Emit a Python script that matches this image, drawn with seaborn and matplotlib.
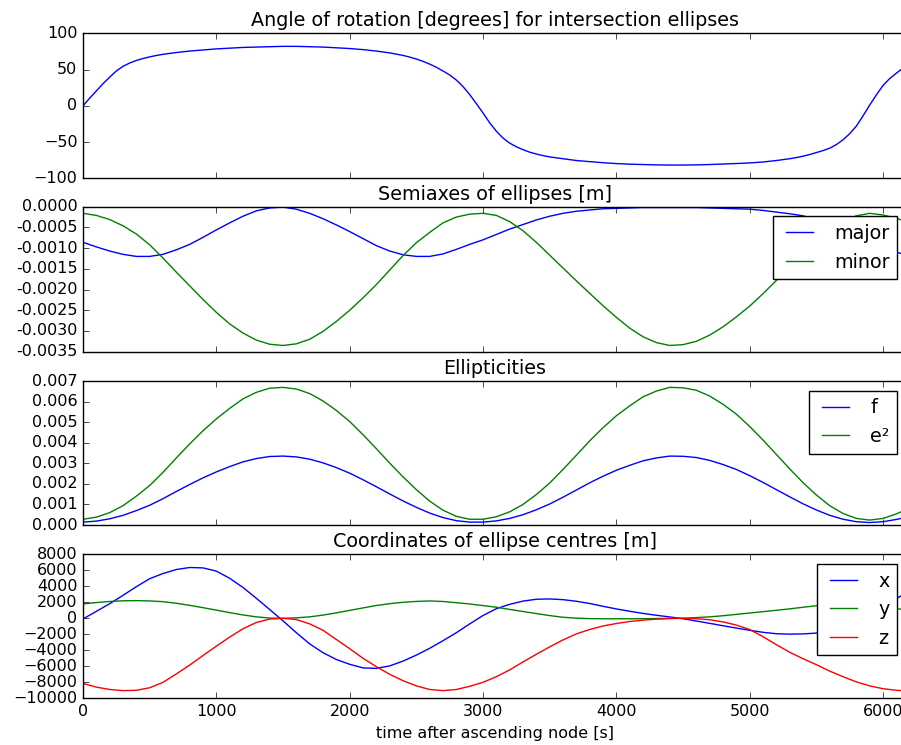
import matplotlib
matplotlib.use("Agg")
import matplotlib.pyplot as plt
import matplotlib.ticker as mticker
import seaborn as sns

# ---------------- data ----------------
time = list(range(0, 6101, 100)) + [6150]

# angle sampled more densely where it changes quickly
angle_time = (list(range(0, 601, 50)) + list(range(700, 2401, 100)) +
              list(range(2450, 3501, 50)) + list(range(3600, 5301, 100)) +
              list(range(5350, 6151, 50)))
angle = [0, 10.5, 20.5, 30.5, 39.5, 48, 54.5, 59, 62.5, 65.2, 67.5, 69.4, 71,
         73.5, 75.5, 77, 78.5, 79.5, 80.5, 81, 81.5, 82, 82, 81.5, 81, 80,
         79, 77.5, 75.5, 73, 69.5,
         67.2, 64.5, 61.3, 57.5, 53.2, 48, 42.5, 35.5, 26.5, 15.5, 3,
         -10, -23.5, -35, -44.5, -51.5, -56.5, -60.5, -64, -66.5, -68.7, -70.5,
         -73, -75.5, -77, -78.5, -79.7, -80.5, -81, -81.5, -81.7, -81.7,
         -81.5, -81, -80.3, -79.6, -78.8, -77.5, -75.5, -73,
         -71.4, -69.5, -67.2, -64.5, -61.8, -58.5, -53.5, -47, -38.5, -28,
         -14, 1, 15, 28, 37.5, 45, 52]

major = [-0.00086, -0.00097, -0.00107, -0.00115, -0.00120, -0.00120, -0.00115, -0.00104, -0.00091, -0.00074,
         -0.00056, -0.00039, -0.00023, -0.00010, -0.00003, -0.00001, -0.00006, -0.00016, -0.00029, -0.00044,
         -0.00060, -0.00077, -0.00094, -0.00107, -0.00116, -0.00120, -0.00120, -0.00114, -0.00103, -0.00091,
         -0.00080, -0.00067, -0.00054, -0.00043, -0.00032, -0.00023, -0.00016, -0.00011, -0.00008, -0.00005,
         -0.00004, -0.00003, -0.00002, -0.00002, -0.00002, -0.00002, -0.00002, -0.00003, -0.00004, -0.00005,
         -0.00006, -0.00009, -0.00013, -0.00017, -0.00022, -0.00031, -0.00043, -0.00057, -0.00072, -0.00087,
         -0.00100, -0.00110, -0.00114]

minor = [-0.00016, -0.00021, -0.00031, -0.00046, -0.00066, -0.00092, -0.00124, -0.00158, -0.00191, -0.00224,
         -0.00255, -0.00283, -0.00305, -0.00322, -0.00332, -0.00335, -0.00331, -0.00320, -0.00301, -0.00277,
         -0.00250, -0.00220, -0.00188, -0.00153, -0.00118, -0.00087, -0.00062, -0.00039, -0.00025, -0.00018,
         -0.00016, -0.00021, -0.00036, -0.00058, -0.00086, -0.00117, -0.00148, -0.00179, -0.00209, -0.00239,
         -0.00267, -0.00293, -0.00314, -0.00328, -0.00335, -0.00333, -0.00325, -0.00310, -0.00290, -0.00266,
         -0.00240, -0.00210, -0.00178, -0.00146, -0.00115, -0.00085, -0.00058, -0.00036, -0.00022, -0.00016,
         -0.00020, -0.00028, -0.00033]

flat = [0.00014, 0.00019, 0.00030, 0.00047, 0.00070, 0.00096, 0.00128, 0.00163, 0.00197, 0.00229,
        0.00258, 0.00284, 0.00307, 0.00323, 0.00333, 0.00335, 0.00331, 0.00320, 0.00302, 0.00279,
        0.00252, 0.00220, 0.00186, 0.00151, 0.00117, 0.00086, 0.00058, 0.00036, 0.00021, 0.00014,
        0.00014, 0.00020, 0.00032, 0.00050, 0.00074, 0.00102, 0.00135, 0.00170, 0.00205, 0.00237,
        0.00266, 0.00290, 0.00312, 0.00326, 0.00335, 0.00334, 0.00328, 0.00314, 0.00294, 0.00270,
        0.00240, 0.00207, 0.00172, 0.00137, 0.00103, 0.00073, 0.00047, 0.00028, 0.00016, 0.00012,
        0.00016, 0.00027, 0.00034]

ecc2 = [0.00028, 0.00038, 0.00060, 0.00094, 0.00140, 0.00192, 0.00256, 0.00326, 0.00394, 0.00458,
        0.00516, 0.00567, 0.00613, 0.00645, 0.00665, 0.00669, 0.00661, 0.00639, 0.00603, 0.00557,
        0.00503, 0.00439, 0.00371, 0.00301, 0.00234, 0.00172, 0.00116, 0.00072, 0.00042, 0.00028,
        0.00028, 0.00040, 0.00064, 0.00100, 0.00148, 0.00204, 0.00270, 0.00339, 0.00409, 0.00473,
        0.00531, 0.00579, 0.00623, 0.00651, 0.00669, 0.00667, 0.00655, 0.00627, 0.00587, 0.00539,
        0.00479, 0.00413, 0.00343, 0.00273, 0.00206, 0.00146, 0.00094, 0.00056, 0.00032, 0.00024,
        0.00032, 0.00054, 0.00068]

cx = [-80, 870, 1820, 2870, 3950, 4950, 5600, 6100, 6350, 6300,
      5900, 5000, 3850, 2500, 1100, -320, -1800, -3200, -4300, -5150,
      -5750, -6200, -6260, -5950, -5350, -4600, -3750, -2800, -1800, -700,
      350, 1200, 1750, 2150, 2380, 2420, 2330, 2130, 1850, 1500,
      1170, 880, 610, 380, 170, -60, -340, -630, -930, -1220,
      -1500, -1750, -1930, -1980, -1950, -1850, -1500, -950, -250, 550,
      1450, 2450, 2950]

cy = [1790, 1970, 2100, 2190, 2210, 2170, 2080, 1880, 1620, 1330,
      1020, 710, 420, 180, 30, 0, 60, 180, 400, 680,
      990, 1300, 1600, 1830, 2000, 2110, 2170, 2100, 1950, 1790,
      1590, 1380, 1110, 850, 590, 340, 130, 20, -40, -60,
      -60, -60, -50, -30, -10, 10, 90, 180, 320, 490,
      660, 830, 1000, 1180, 1380, 1570, 1700, 1760, 1740, 1640,
      1480, 1230, 1100]

cz = [-8150, -8600, -8900, -9040, -9000, -8680, -8000, -6950, -5850, -4650,
      -3480, -2350, -1300, -520, -100, 0, -160, -700, -1500, -2650,
      -3800, -5000, -6050, -7000, -7800, -8450, -8900, -9040, -8900, -8500,
      -8000, -7300, -6450, -5450, -4500, -3570, -2700, -1950, -1400, -960,
      -650, -400, -230, -110, -30, 0, -60, -180, -450, -850,
      -1400, -2300, -3300, -4250, -5050, -5800, -6600, -7300, -7950, -8450,
      -8800, -9000, -9050]

titles = ["Angle of rotation [degrees] for intersection ellipses",
          "Semiaxes of ellipses [m]",
          "Ellipticities",
          "Coordinates of ellipse centres [m]"]
xticks = [0, 1000, 2000, 3000, 4000, 5000, 6000]

# ---------------- style ----------------
plt.style.use("classic")
plt.rcParams.update({
    "font.family": ["DejaVu Sans"],
    "font.size": 11.5,
    "axes.titlesize": 13.8,
    "legend.fontsize": 13.8,
    "figure.facecolor": "white",
    "savefig.facecolor": "white",
    "lines.linewidth": 1.0,
})

fig = plt.figure(figsize=(9.01, 7.45), dpi=100)
W, H = 901.0, 745.0
left = 83 / W
width = (907 - 83) / W


def add_axes(top, bottom):
    return fig.add_axes([left, 1 - bottom / H, width, (bottom - top) / H])


ax1 = add_axes(33.3, 178.3)
ax2 = add_axes(206.7, 351.7)
ax3 = add_axes(381.0, 525.0)
ax4 = add_axes(554.3, 698.3)

sns.lineplot(x=angle_time, y=angle, color="b", ax=ax1, linewidth=1)

sns.lineplot(x=time, y=major, color="b", ax=ax2, linewidth=1, label="major")
sns.lineplot(x=time, y=minor, color="g", ax=ax2, linewidth=1, label="minor")

sns.lineplot(x=time, y=flat, color="b", ax=ax3, linewidth=1, label="f")
sns.lineplot(x=time, y=ecc2, color="g", ax=ax3, linewidth=1, label="e²")

sns.lineplot(x=time, y=cx, color="b", ax=ax4, linewidth=1, label="x")
sns.lineplot(x=time, y=cy, color="g", ax=ax4, linewidth=1, label="y")
sns.lineplot(x=time, y=cz, color="r", ax=ax4, linewidth=1, label="z")

ax1.set_ylim(-100, 100)
ax1.set_yticks([-100, -50, 0, 50, 100])
ax2.set_ylim(-0.0035, 0.0)
ax2.set_yticks([-0.0035, -0.003, -0.0025, -0.002, -0.0015, -0.001, -0.0005, 0.0])
ax3.set_ylim(0.0, 0.007)
ax3.set_yticks([0.0, 0.001, 0.002, 0.003, 0.004, 0.005, 0.006, 0.007])
ax4.set_ylim(-10000, 8000)
ax4.set_yticks(list(range(-10000, 8001, 2000)))

for ax, title in zip([ax1, ax2, ax3, ax4], titles):
    ax.set_xlim(0, 6180)
    ax.set_xticks(xticks)
    ax.set_title(title)
    ax.set_ylabel("")
    ax.set_xlabel("")
    ax.tick_params(direction="in", top=True, right=True)

for ax in [ax1, ax2, ax3]:
    ax.tick_params(labelbottom=False)

ax2.yaxis.set_major_formatter(mticker.FormatStrFormatter("%.4f"))
ax3.yaxis.set_major_formatter(mticker.FormatStrFormatter("%.3f"))

for ax in [ax2, ax3, ax4]:
    ax.legend(loc="upper right", fancybox=False, shadow=False, framealpha=1.0,
              edgecolor="black", borderpad=0.4, handlelength=2.0, handletextpad=0.8)

ax4.set_xlabel("time after ascending node [s]")

fig.savefig("out.png", dpi=100)
